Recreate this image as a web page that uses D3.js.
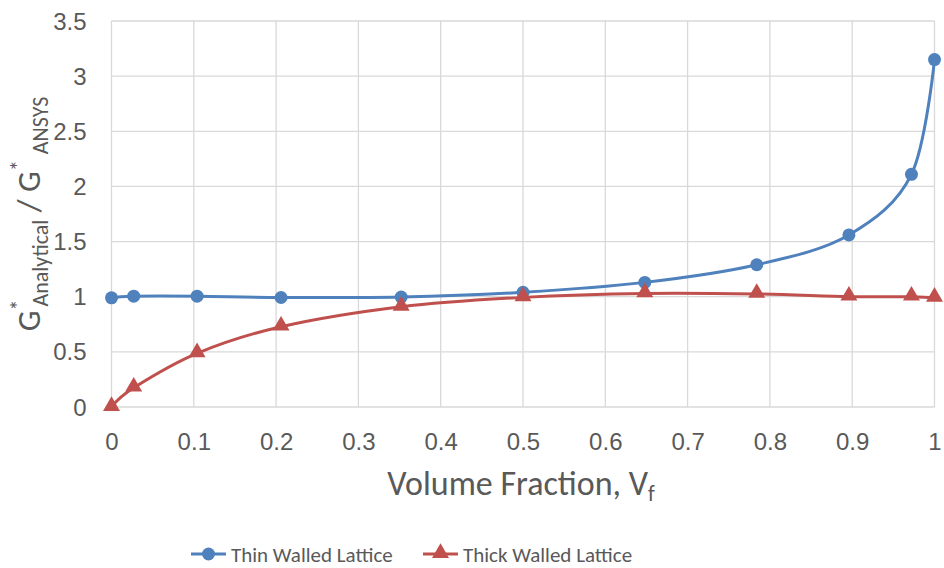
<!DOCTYPE html>
<html>
<head>
<meta charset="utf-8">
<script src="https://cdn.jsdelivr.net/npm/d3@7"></script>
<style>
  html, body { margin: 0; padding: 0; background: #fff; }
  svg { display: block; font-family: Carlito, Lato, "Open Sans", sans-serif; }
</style>
</head>
<body>
<svg id="chart" width="944" height="568"></svg>
<script>
// Volume fraction samples
const volumeFraction = [0, 0.027, 0.104, 0.206, 0.352, 0.5, 0.648, 0.784, 0.896, 0.972, 1.0];
// Ratio of analytical to ANSYS shear modulus
const thinWalled  = [0.99, 1.005, 1.005, 0.993, 0.997, 1.04, 1.13, 1.29, 1.56, 2.11, 3.15];
const thickWalled = [0.0, 0.175, 0.487, 0.728, 0.909, 0.994, 1.03, 1.025, 1.0, 1.0, 0.99];
const xTicks = [0, 0.1, 0.2, 0.3, 0.4, 0.5, 0.6, 0.7, 0.8, 0.9, 1];
const yTicks = [0, 0.5, 1, 1.5, 2, 2.5, 3, 3.5];
const seriesNames = ["Thin Walled Lattice", "Thick Walled Lattice"];
const seriesColors = ["#4F81BD", "#C0504D"];

const svg = d3.select("#chart");
const plot = { left: 111.5, right: 934.5, top: 21, bottom: 407 };
const textColor = "#595959";

const x = d3.scaleLinear().domain([0, 1]).range([plot.left, plot.right]);
const y = d3.scaleLinear().domain([0, 3.5]).range([plot.bottom, plot.top]);

// Gridlines
const grid = svg.append("g").attr("stroke", "#d9d9d9").attr("stroke-width", 1.3);
grid.selectAll("line.v").data(xTicks).join("line")
  .attr("x1", d => x(d)).attr("x2", d => x(d))
  .attr("y1", plot.top).attr("y2", plot.bottom);
grid.selectAll("line.h").data(yTicks).join("line")
  .attr("x1", plot.left).attr("x2", plot.right)
  .attr("y1", d => y(d)).attr("y2", d => y(d));

// Axes (tick labels only)
const fmt = d => String(d);
const xAxis = svg.append("g")
  .attr("transform", `translate(0,${plot.bottom})`)
  .call(d3.axisBottom(x).tickValues(xTicks).tickFormat(fmt).tickSize(0).tickPadding(0));
xAxis.select(".domain").remove();
xAxis.selectAll("text")
  .attr("y", 43).attr("dy", null)
  .attr("font-size", 24).attr("fill", textColor).attr("font-family", null);

const yAxis = svg.append("g")
  .attr("transform", `translate(${plot.left},0)`)
  .call(d3.axisLeft(y).tickValues(yTicks).tickFormat(fmt).tickSize(0).tickPadding(0));
yAxis.select(".domain").remove();
yAxis.selectAll("text")
  .attr("x", -25).attr("dy", 8)
  .attr("font-size", 24).attr("fill", textColor).attr("font-family", null);

// Series lines and markers
const series = [thinWalled, thickWalled];
const line = d3.line()
  .x((d, i) => x(volumeFraction[i]))
  .y(d => y(d))
  .curve(d3.curveCardinal.tension(0));

const tri = d3.symbol().type(d3.symbolTriangle).size(125);

series.forEach((vals, s) => {
  svg.append("path")
    .attr("d", line(vals))
    .attr("fill", "none")
    .attr("stroke", seriesColors[s])
    .attr("stroke-width", 3)
    .attr("stroke-linejoin", "round");
  const g = svg.append("g").attr("fill", seriesColors[s]);
  if (s === 0) {
    g.selectAll("circle").data(vals).join("circle")
      .attr("cx", (d, i) => x(volumeFraction[i]))
      .attr("cy", d => y(d))
      .attr("r", 6.5);
  } else {
    g.selectAll("path").data(vals).join("path")
      .attr("d", tri)
      .attr("transform", (d, i) => `translate(${x(volumeFraction[i])},${y(d) - 1})`);
  }
});

// X axis title
const xt = svg.append("text")
  .attr("x", (plot.left + plot.right) / 2 - 2)
  .attr("y", 495)
  .attr("text-anchor", "middle")
  .attr("fill", textColor)
  .attr("font-size", 34);
xt.append("tspan").text("Volume Fraction, V");
xt.append("tspan").attr("font-size", 22).attr("dy", 6).text("f");

// Y axis title
const yt = svg.append("text")
  .attr("transform", `translate(40,${(plot.top + plot.bottom) / 2}) rotate(-90)`)
  .attr("text-anchor", "middle")
  .attr("fill", textColor)
  .attr("font-size", 33);
yt.append("tspan").text("G");
yt.append("tspan").attr("font-size", 22).attr("dy", -14).text("*");
yt.append("tspan").attr("font-size", 22).attr("dx", -7).attr("dy", 22).text("Analytical");
yt.append("tspan").attr("dy", -8).text(" / G");
yt.append("tspan").attr("font-size", 22).attr("dy", -14).text("*");
yt.append("tspan").attr("font-size", 22).attr("dx", 1).attr("dy", 22).text(" ANSYS");

// Legend
const legend = svg.append("g").attr("transform", "translate(0,554)");
const legendItems = [
  { x0: 191, name: seriesNames[0], color: seriesColors[0], marker: "circle" },
  { x0: 423, name: seriesNames[1], color: seriesColors[1], marker: "triangle" }
];
legendItems.forEach(it => {
  legend.append("line")
    .attr("x1", it.x0).attr("x2", it.x0 + 35)
    .attr("stroke", it.color).attr("stroke-width", 3);
  if (it.marker === "circle") {
    legend.append("circle").attr("cx", it.x0 + 17.5).attr("r", 6.5).attr("fill", it.color);
  } else {
    legend.append("path").attr("d", tri)
      .attr("transform", `translate(${it.x0 + 17.5},-1)`).attr("fill", it.color);
  }
  legend.append("text")
    .attr("x", it.x0 + 40).attr("y", 8)
    .attr("fill", textColor).attr("font-size", 21)
    .text(it.name);
});
</script>
</body>
</html>
